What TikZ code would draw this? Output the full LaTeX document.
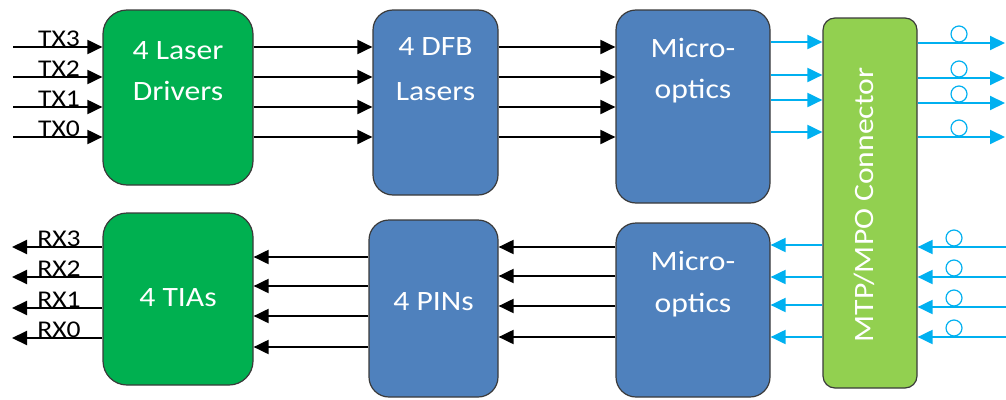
\documentclass[tikz,border=0pt]{standalone}
\usepackage{fontspec}
\setmainfont{Carlito}
\newfontfamily\widefont[FakeStretch=1.13]{Carlito}
\newfontfamily\sigfont[FakeStretch=1.15]{Carlito}
\usetikzlibrary{arrows.meta}
\definecolor{dgreen}{HTML}{00B050}
\definecolor{lgreen}{HTML}{92D050}
\definecolor{bblue}{HTML}{4F81BD}
\definecolor{cyanl}{HTML}{00B0F0}
\definecolor{edgec}{HTML}{3A3A3A}
\begin{document}
\begin{tikzpicture}[x=1pt,y=-1pt,
 blk/.style={draw=edgec, line width=1.2pt, inner sep=0pt},
 intext/.style={text=white, font=\widefont\fontsize{28}{30}\selectfont, anchor=base, inner sep=0pt},
 sig/.style={font=\sigfont\fontsize{24}{26}\selectfont, anchor=base, inner sep=0pt},
 bkarrow/.style={line width=2pt, -{Triangle[length=15pt,width=14pt]}},
 cyarrow/.style={draw=cyanl, line width=2pt, -{Triangle[length=15pt,width=14pt]}},
 fiberloop/.style={draw=cyanl, line width=1.2pt}
]
\useasboundingbox (0,0) rectangle (1006,399);
% boxes
\node[blk, fill=dgreen, rounded corners=24pt, minimum width=150pt, minimum height=175pt] (ld) at (178,97.5) {};
\node[blk, fill=bblue, rounded corners=20pt, minimum width=125pt, minimum height=185pt] (dfb) at (435.5,102.5) {};
\node[blk, fill=bblue, rounded corners=20pt, minimum width=154pt, minimum height=193pt] (mot) at (693,106.5) {};
\node[blk, fill=lgreen, rounded corners=12pt, minimum width=94pt, minimum height=370pt] (mtp) at (870,203) {};
\node[blk, fill=dgreen, rounded corners=24pt, minimum width=150pt, minimum height=172pt] (tia) at (178,299) {};
\node[blk, fill=bblue, rounded corners=20pt, minimum width=129pt, minimum height=177pt] (pin) at (433.5,308.5) {};
\node[blk, fill=bblue, rounded corners=20pt, minimum width=154pt, minimum height=174pt] (mob) at (693,310) {};
% box texts
\node[intext] (ldt1) at (178,59) {4 Laser};
\node[intext] (ldt2) at (178,100) {Drivers};
\node[intext] (dfbt1) at (435.5,55) {4 DFB};
\node[intext] (dfbt2) at (435.5,100) {Lasers};
\node[intext] (mott1) at (693,57) {Micro-};
\node[intext] (mott2) at (693,98) {optics};
\node[intext] (tiat) at (178,306) {4 TIAs};
\node[intext] (pint) at (433.5,310) {4 PINs};
\node[intext] (mobt1) at (693,270) {Micro-};
\node[intext] (mobt2) at (693,312) {optics};
\node[intext, rotate=90] (mtpt) at (873,205) {MTP/MPO Connector};
% transmit side
\foreach \y/\n in {47/3,77/2,107/1,137/0}{
  \coordinate (tx\n) at (13,\y);
  \draw[bkarrow] (tx\n) -- (ld.west |- 0,\y);
  \node[sig] (txl\n) at (59,\y-1) {TX\n};
  \draw[bkarrow] (ld.east |- 0,\y) -- (dfb.west |- 0,\y);
  \draw[bkarrow] (dfb.east |- 0,\y) -- (mot.west |- 0,\y);
}
\foreach \y in {42,75,100,132}{
  \draw[cyarrow] (mot.east |- 0,\y) -- (mtp.west |- 0,\y);
}
\foreach \y/\n in {43/3,78/2,103/1,137/0}{
  \coordinate (fo\n) at (1005,\y);
  \draw[cyarrow] (mtp.east |- 0,\y) -- (fo\n);
  \draw[fiberloop] (959,\y-9) circle (8);
}
% receive side
\foreach \y/\n in {247/3,277/2,307/1,337/0}{
  \coordinate (fi\n) at (1006,\y);
  \draw[cyarrow] (fi\n) -- (mtp.east |- 0,\y);
  \draw[fiberloop] (954,\y-9) circle (8);
}
\foreach \y in {245,277,305,337}{
  \draw[cyarrow] (mtp.west |- 0,\y) -- (mob.east |- 0,\y);
}
\foreach \y in {247,276,306,337}{
  \draw[bkarrow] (mob.west |- 0,\y) -- (pin.east |- 0,\y);
}
\foreach \y in {257,286,316,347}{
  \draw[bkarrow] (pin.west |- 0,\y) -- (tia.east |- 0,\y);
}
\foreach \y/\n in {247/3,277/2,308/1,338/0}{
  \coordinate (rx\n) at (12,\y);
  \draw[bkarrow] (tia.west |- 0,\y) -- (rx\n);
  \node[sig] (rxl\n) at (59,\y-1) {RX\n};
}
\end{tikzpicture}
\end{document}
